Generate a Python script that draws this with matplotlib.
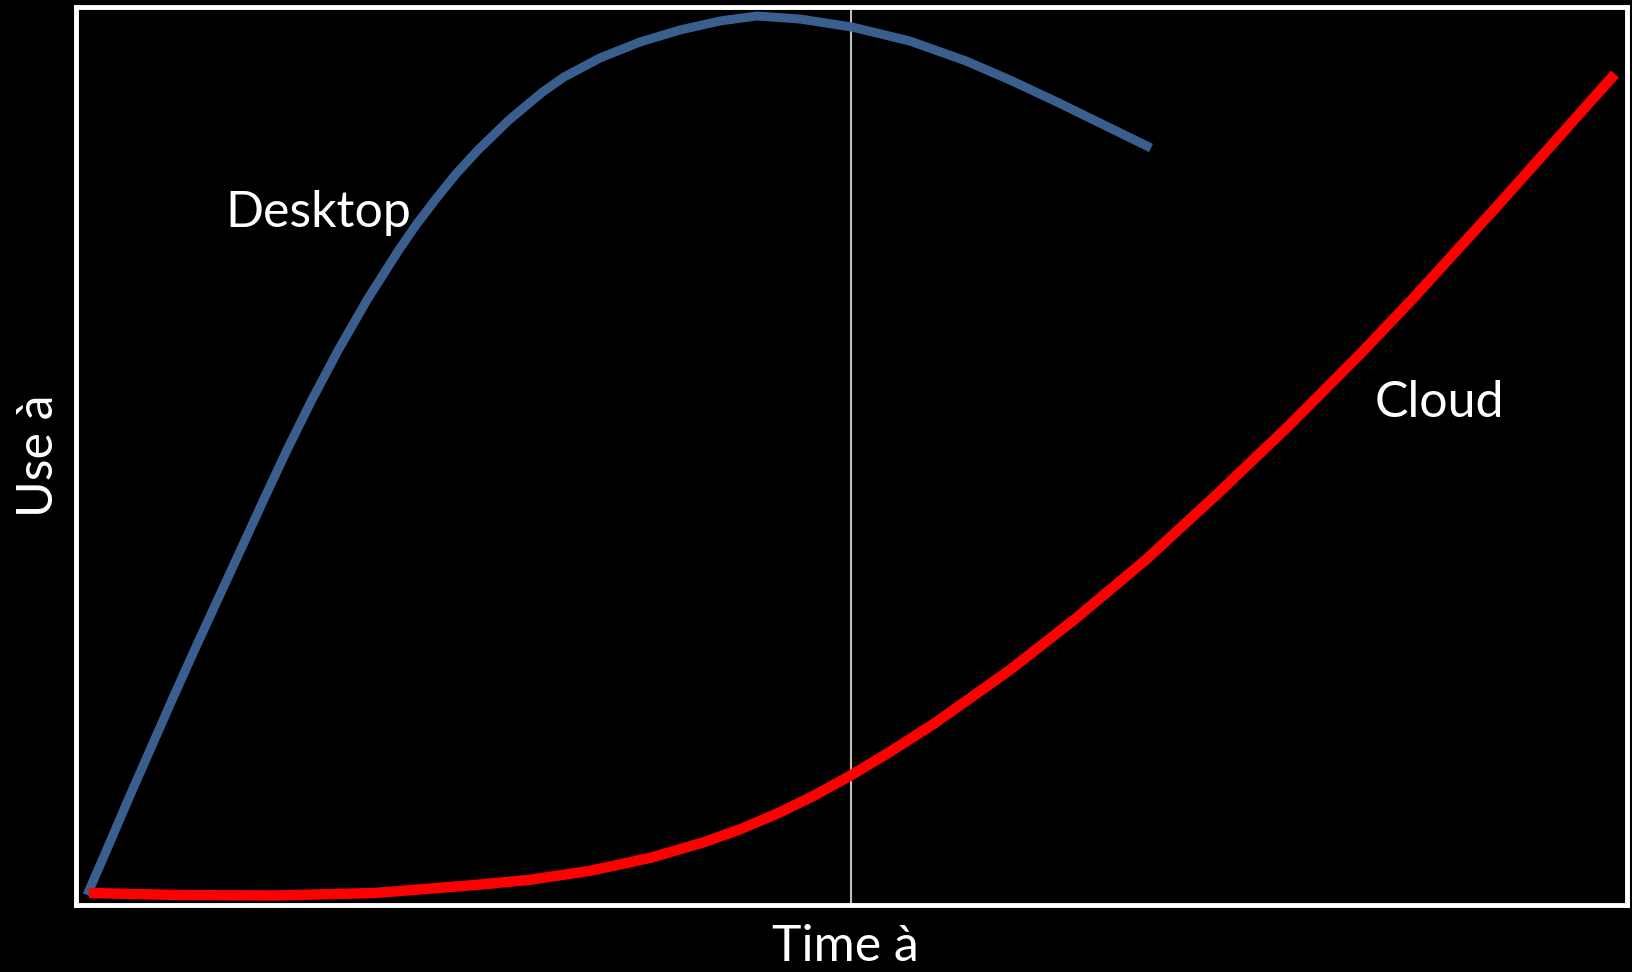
import matplotlib
matplotlib.use("Agg")
import matplotlib.pyplot as plt

# values (x = time, y = use, both 0-100)
desktop_x = [0.71, 1.97, 3.35, 4.77, 6.19, 7.64, 9.12, 10.61, 12.09, 13.60, 15.20, 16.91,
             18.76, 20.81, 21.92, 23.15, 24.44, 25.92, 27.92, 30.08, 31.46, 33.78, 36.36,
             38.94, 41.52, 43.91, 46.68, 50.03, 53.77, 57.38, 60.22, 63.12, 66.02, 69.31]
desktop_y = [1.11, 6.12, 11.69, 17.26, 22.83, 28.40, 33.96, 39.53, 45.10, 50.67, 56.24, 61.80,
             67.37, 72.94, 75.72, 78.51, 81.29, 84.08, 87.42, 90.53, 92.20, 94.32, 96.10,
             97.44, 98.44, 99.00, 98.66, 97.77, 96.21, 93.99, 91.87, 89.53, 87.08, 84.30]

cloud_x = [0.84, 6.71, 12.83, 19.28, 25.73, 29.27, 33.14, 37.01, 40.55, 42.81, 45.39, 47.65,
           50.03, 52.48, 55.32, 60.28, 64.41, 68.99, 73.63, 78.21, 82.85, 86.07, 91.81, 99.23]
cloud_y = [1.34, 1.11, 1.06, 1.34, 2.23, 2.81, 3.81, 5.24, 7.03, 8.43, 10.32, 12.24,
           14.51, 17.05, 20.19, 26.26, 31.85, 38.46, 45.84, 53.39, 61.45, 67.29, 78.17, 92.54]

now_x = 50.0
labels = {"Desktop": (9.6, 75.5), "Cloud": (83.7, 54.3)}

plt.rcParams['font.family'] = ['Lato', 'DejaVu Sans']

fig = plt.figure(figsize=(16.32, 9.72), dpi=100, facecolor='black')
ax = fig.add_axes([0.0466, 0.0689, 0.9503, 0.9239])
ax.set_facecolor('black')

ax.axvline(now_x, color='#BFBFBF', lw=1.5, zorder=1)
ax.plot(desktop_x, desktop_y, color='#3A5F8F', lw=6.5, solid_capstyle='butt',
        solid_joinstyle='round', zorder=2)
ax.plot(cloud_x, cloud_y, color='#FF0000', lw=7.5, solid_capstyle='butt',
        solid_joinstyle='round', zorder=3)

for name, (tx, ty) in labels.items():
    ax.text(tx, ty, name, color='white', fontsize=36, ha='left', va='baseline')

ax.set_xlim(0, 100)
ax.set_ylim(0, 100)
ax.set_xticks([])
ax.set_yticks([])
for s in ax.spines.values():
    s.set_color('white')
    s.set_linewidth(3.5)

ax.set_xlabel("Time à", color='white', fontsize=36)
ax.xaxis.set_label_coords(0.496, -0.021)
ax.set_ylabel("Use à", color='white', fontsize=36, labelpad=10)

fig.savefig("out.png", dpi=100, facecolor='black')
